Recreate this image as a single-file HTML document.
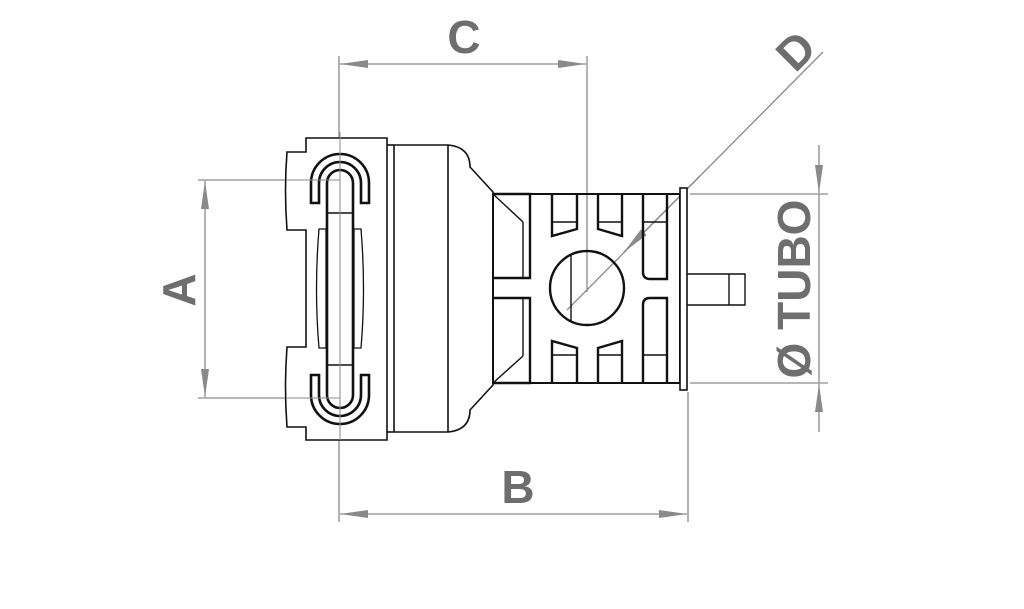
<!DOCTYPE html>
<html><head><style>
html,body{margin:0;padding:0;background:#fff;}
svg{display:block;}
.t{font-family:"Liberation Sans",sans-serif;font-weight:bold;fill:#6e6e6e;}
</style></head><body>
<svg width="1024" height="609" viewBox="0 0 1024 609" xmlns="http://www.w3.org/2000/svg">
<defs>
<marker id="ar" viewBox="0 0 28 10" refX="28" refY="5" markerWidth="28" markerHeight="10" markerUnits="userSpaceOnUse" orient="auto">
<path d="M0,1 L28,5 L0,9 Z" fill="#8a8a8a"/>
</marker>
</defs>
<rect width="1024" height="609" fill="#fff"/>

<!-- dimension lines -->
<g stroke="#8a8a8a" stroke-width="1.3" fill="none">
<line x1="339" y1="56" x2="339" y2="440"/>
<line x1="587" y1="56" x2="587" y2="292"/>
<line x1="463" y1="64" x2="340" y2="64" marker-end="url(#ar)"/>
<line x1="463" y1="64" x2="586" y2="64" marker-end="url(#ar)"/>
<line x1="688" y1="392" x2="688" y2="522"/>
<line x1="339" y1="440" x2="339" y2="522"/>
<line x1="514" y1="514" x2="340" y2="514" marker-end="url(#ar)"/>
<line x1="514" y1="514" x2="687" y2="514" marker-end="url(#ar)"/>
<line x1="198" y1="180" x2="340" y2="180"/>
<line x1="198" y1="398" x2="340" y2="398"/>
<line x1="205" y1="289" x2="205" y2="181" marker-end="url(#ar)"/>
<line x1="205" y1="289" x2="205" y2="397" marker-end="url(#ar)"/>
<line x1="690" y1="194" x2="828" y2="194"/>
<line x1="690" y1="383" x2="828" y2="383"/>
<line x1="819" y1="145" x2="819" y2="193" marker-end="url(#ar)"/>
<line x1="819" y1="432" x2="819" y2="384" marker-end="url(#ar)"/>
<line x1="819" y1="194" x2="819" y2="383"/>
<line x1="823" y1="52" x2="567" y2="310"/>
<line x1="700" y1="176" x2="624" y2="252" marker-end="url(#ar)"/>
</g>

<!-- clip body -->
<g stroke="#111" stroke-width="1.6" fill="none">
<path d="M306,138 L387,138 L387,440 L306,440 L306,427 L287,427 Q284,387 287,347 L306,347 L306,230 L287,230 Q284,190 287,152 L306,152 Z" fill="#fff"/>
<line x1="394" y1="145" x2="394" y2="432"/>
<line x1="387" y1="145" x2="394" y2="145"/>
<line x1="387" y1="432" x2="394" y2="432"/>
<path d="M394,145 L448,145 Q470,147 470,167 L493,192 L493,385 L470,410 Q470,430 448,432 L394,432"/>
<line x1="448" y1="145" x2="448" y2="432"/>
<path d="M311,203 L311,183 A29,29 0 0 1 369,183 L369,203 L361,203 L361,183 A21,21 0 0 0 319,183 L319,203 Z" stroke-width="2.6"/>
<path d="M311,375 L311,395 A29,29 0 0 0 369,395 L369,375 L361,375 L361,395 A21,21 0 0 1 319,395 L319,375 Z" stroke-width="2.6"/>
<path d="M327,183 A13,13 0 0 1 353,183 L353,395 A13,13 0 0 1 327,395 Z" stroke-width="2.6"/>
<line x1="327" y1="213" x2="353" y2="213"/>
<line x1="327" y1="365" x2="353" y2="365"/>
<path d="M319,229 L326,229 L326,348 L319,348 Q314,290 319,229 Z" stroke-width="1.3"/>
<path d="M361,229 L354,229 L354,348 L361,348 Q366,290 361,229 Z" stroke-width="1.3"/>
</g>
<g stroke="#8a8a8a" stroke-width="1" fill="none">
<line x1="340" y1="132" x2="340" y2="440"/>
<line x1="287" y1="180" x2="340" y2="180"/>
<line x1="287" y1="398" x2="340" y2="398"/>
</g>

<!-- cylinder -->
<g stroke="#111" stroke-width="2.4" fill="none">
<rect x="493" y="194" width="187" height="189" stroke-width="2"/>
<rect x="680" y="188" width="7" height="202" stroke-width="1.6" fill="#fff"/>
<path d="M687,274 L745,274 L745,305 L687,305" stroke-width="1.4"/>
<line x1="729" y1="274" x2="729" y2="305" stroke-width="1.4"/>
<path d="M493,194 L530,194 L530,278 L493,278"/>
<path d="M493,383 L530,383 L530,298 L493,298"/>
<line x1="523" y1="222" x2="523" y2="278" stroke-width="1.4"/>
<line x1="523" y1="298" x2="523" y2="356" stroke-width="1.4"/>
<line x1="493" y1="194" x2="523" y2="222" stroke-width="1.4"/>
<line x1="493" y1="383" x2="523" y2="356" stroke-width="1.4"/>
<path d="M552,194 L552,236 L577,229 L577,194"/>
<path d="M598,194 L598,229 L622,236 L622,194"/>
<path d="M552,383 L552,341 L577,348 L577,383"/>
<path d="M598,383 L598,348 L622,341 L622,383"/>
<line x1="552" y1="222" x2="577" y2="222" stroke-width="1.4"/>
<line x1="598" y1="222" x2="622" y2="222" stroke-width="1.4"/>
<line x1="552" y1="355" x2="577" y2="355" stroke-width="1.4"/>
<line x1="598" y1="355" x2="622" y2="355" stroke-width="1.4"/>
<path d="M643,194 L643,272 Q643,279 650,279 L667,279 L667,194"/>
<path d="M643,383 L643,305 Q643,298 650,298 L667,298 L667,383"/>
<line x1="643" y1="222" x2="667" y2="222" stroke-width="1.4"/>
<line x1="643" y1="355" x2="667" y2="355" stroke-width="1.4"/>
<circle cx="587" cy="288" r="37"/>
<line x1="571" y1="254" x2="571" y2="321" stroke-width="1.4"/>
</g>

<text class="t" x="464" y="53" font-size="46" text-anchor="middle">C</text>
<text class="t" x="518" y="503" font-size="46" text-anchor="middle">B</text>
<text class="t" font-size="46" text-anchor="middle" transform="translate(195,290) rotate(-90)">A</text>
<text class="t" font-size="46" text-anchor="middle" transform="translate(807,62) rotate(-45)">D</text>
<text class="t" font-size="46" text-anchor="middle" transform="translate(810,289) rotate(-90)">Ø TUBO</text>
</svg>
</body></html>
